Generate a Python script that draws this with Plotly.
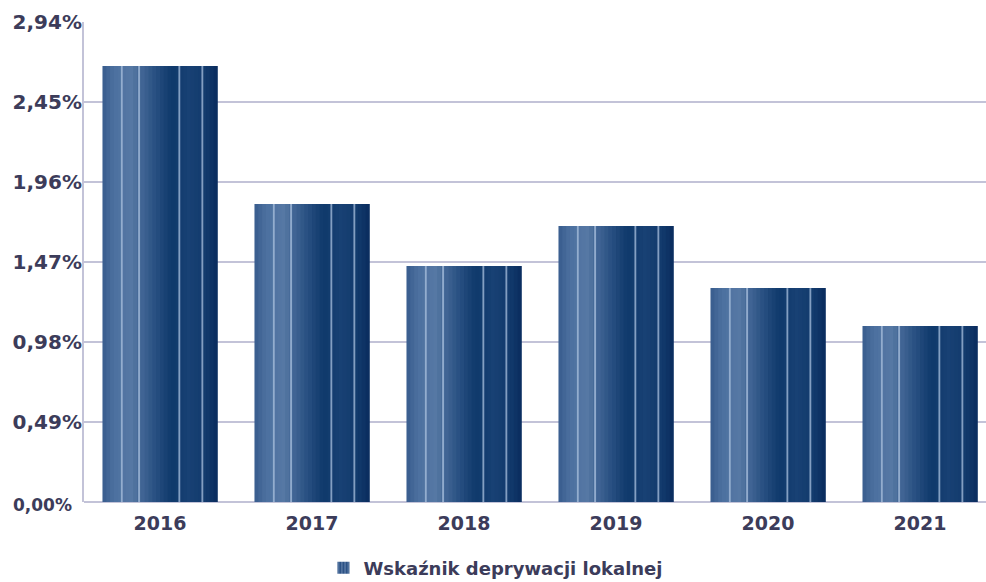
import plotly.graph_objects as go

years = ["2016", "2017", "2018", "2019", "2020", "2021"]
values = [2.67, 1.825, 1.445, 1.69, 1.31, 1.078]
tick_vals = [0.49, 0.98, 1.47, 1.96, 2.45, 2.94]
tick_text = ["0,49%", "0,98%", "1,47%", "1,96%", "2,45%", "2,94%"]
zero_label = "0,00%"
series_name = "Wskaźnik deprywacji lokalnej"

TEXT = "#3c3c5a"
GRID = "#c3c3d8"
FONT = "DejaVu Sans, Verdana, sans-serif"
BAR_W = 0.757

# horizontal colour profile of the bar (fraction across bar, rgb)
stops = [
    (0.00, (0x38, 0x5c, 0x8d)),
    (0.10, (0x4c, 0x70, 0x9f)),
    (0.25, (0x56, 0x78, 0xa4)),
    (0.45, (0x2a, 0x51, 0x83)),
    (0.60, (0x0f, 0x39, 0x6b)),
    (0.75, (0x18, 0x41, 0x74)),
    (0.90, (0x12, 0x3a, 0x6c)),
    (1.00, (0x0a, 0x2c, 0x5d)),
]
stripes = [0.16, 0.31, 0.66, 0.86]


def col_at(f):
    for (a, ca), (b, cb) in zip(stops[:-1], stops[1:]):
        if a <= f <= b:
            t = (f - a) / (b - a) if b > a else 0
            c = [round(ca[i] + (cb[i] - ca[i]) * t) for i in range(3)]
            return "rgb(%d,%d,%d)" % tuple(c)
    return "rgb(10,44,93)"


fig = go.Figure()
N = 30
sw = BAR_W / N
for i in range(N):
    f = (i + 0.5) / N
    fig.add_trace(go.Bar(
        x=years, y=values, width=sw * (2.0 if i < N - 1 else 1.0), offset=-BAR_W / 2 + i * sw,
        marker=dict(color=col_at(f), line=dict(width=0)),
        showlegend=False, hoverinfo="skip",
    ))
for s in stripes:
    fig.add_trace(go.Bar(
        x=years, y=values, width=BAR_W * 0.016, offset=-BAR_W / 2 + s * BAR_W,
        marker=dict(color="rgba(170,192,222,0.75)", line=dict(width=0)),
        showlegend=False, hoverinfo="skip",
    ))
# legend entry
fig.add_trace(go.Bar(
    x=years, y=[None] * len(years), name=series_name,
    marker=dict(color="#2c5285", pattern=dict(shape="|", fgcolor="#a6bcda", size=4, solidity=0.3),
                line=dict(width=0)),
    showlegend=True,
))

fig.add_annotation(
    x=0, xref="paper", y=0, yref="y", text=zero_label, showarrow=False,
    xanchor="right", yanchor="middle", xshift=-10, yshift=-3,
    font=dict(family=FONT, size=17, color=TEXT, weight="bold"),
)

fig.update_layout(
    width=986, height=582,
    margin=dict(l=84, r=0, t=22, b=80, autoexpand=False),
    barmode="overlay",
    plot_bgcolor="white", paper_bgcolor="white",
    font=dict(family=FONT, size=20, color=TEXT),
    showlegend=True,
    legend=dict(orientation="h", xref="container", yref="container",
                x=0.503, xanchor="center", y=0.024, yanchor="middle",
                font=dict(size=18, color=TEXT, family=FONT, weight="bold"),
                itemwidth=30, bgcolor="rgba(0,0,0,0)"),
    xaxis=dict(
        range=[-0.5, 5.434], showgrid=False, zeroline=False, showline=False,
        ticks="", tickfont=dict(size=19, color=TEXT, weight="bold", family=FONT),
        type="category", automargin=False, ticklabelstandoff=8,
    ),
    yaxis=dict(
        range=[0, 2.94], tickvals=tick_vals, ticktext=tick_text,
        showgrid=True, gridcolor=GRID, gridwidth=2,
        zeroline=True, zerolinecolor=GRID, zerolinewidth=2,
        showline=True, linecolor=GRID, linewidth=2,
        ticks="", tickfont=dict(size=20, color=TEXT, weight="bold", family=FONT),
        automargin=False, ticklabelstandoff=-4,
    ),
)

fig.write_html("out.html", post_script="document.body.style.margin='0';",
               config={"displayModeBar": False})
